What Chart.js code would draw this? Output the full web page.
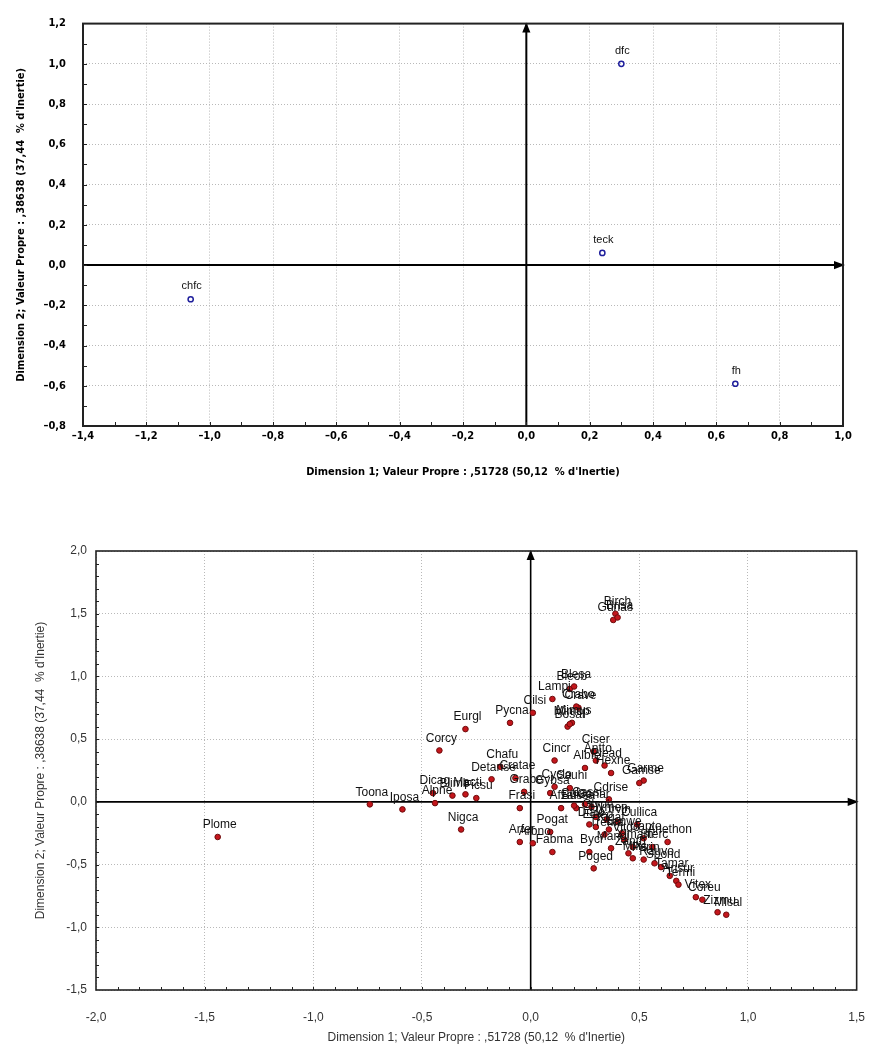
<!DOCTYPE html>
<html>
<head>
<meta charset="utf-8">
<script src="https://cdn.jsdelivr.net/npm/chart.js@4/dist/chart.umd.min.js"></script>
<style>
  html, body { margin: 0; padding: 0; background: #fff; }
  #box-top { position: absolute; left: 0; top: 0; }
  #box-bottom { position: absolute; left: 0; top: 490px; }
</style>
</head>
<body>
<div id="box-top"><canvas id="chart-top" width="885" height="490"></canvas></div>
<div id="box-bottom"><canvas id="chart-bottom" width="885" height="564"></canvas></div>
<script>
// column points (top plot)
const colLabels = ['dfc', 'teck', 'chfc', 'fh'];
const colDim1 = [0.30, 0.24, -1.06, 0.66];
const colDim2 = [1.00, 0.06, -0.17, -0.59];

// row points (bottom plot)
const rowLabels = [
  'Plome', 'Toona', 'Iposa', 'Dicag', 'Alpne', 'Blimb', 'Macti', 'Ficsu', 'Nigca', 'Corcy',
  'Eurgl', 'Pycna', 'Cilsi', 'Lampi', 'Bleob', 'Crave', 'Bosal', 'Mimus', 'Chafu', 'Detarise',
  'Cratae', 'Frasi', 'Grabe', 'Cyclo', 'Sauhi', 'Gybsa', 'Cincr', 'Ciser', 'Plead', 'Albfe',
  'Antto', 'Hexne', 'Garme', 'Gamse', 'Cdrise', 'Afzaf', 'Bussa', 'Canar', 'Cullica', 'Elaeo',
  'Kigaf', 'Lanwe', 'Anethon', 'Pogat', 'Arfer', 'Arbno', 'Fabma', 'Byci', 'Poged', 'Ansur',
  'Coreu', 'Mlsal', 'Gunas', 'Birch', 'Brisa', 'Dialo', 'Trema', 'Vitdo', 'Uapto', 'Sterc',
  'Ximam', 'Zanth', 'Mangi', 'Milic', 'Parin', 'Rauvo', 'Spond', 'Tamar', 'Termi', 'Vitex',
  'Zizmu', 'Blesa', 'Crabo', 'Mimop', 'Cassi', 'Colac', 'Glyph', 'Hymen', 'Irvin'
];
const rowDim1 = [
  -1.44, -0.74, -0.59, -0.45, -0.44, -0.36, -0.30, -0.25, -0.32, -0.42,
  -0.30, -0.095, 0.01, 0.10, 0.18, 0.22, 0.17, 0.19, -0.14, -0.18,
  -0.07, -0.05, -0.03, 0.11, 0.18, 0.09, 0.11, 0.29, 0.34, 0.25,
  0.30, 0.37, 0.52, 0.50, 0.36, 0.14, 0.21, 0.28, 0.49, 0.30,
  0.36, 0.42, 0.63, 0.09, -0.05, 0.01, 0.10, 0.27, 0.29, 0.67,
  0.79, 0.90, 0.38, 0.39, 0.40, 0.27, 0.34, 0.43, 0.52, 0.56,
  0.47, 0.45, 0.37, 0.47, 0.52, 0.57, 0.60, 0.64, 0.68, 0.76,
  0.86, 0.20, 0.21, 0.18, 0.25, 0.20, 0.30, 0.35, 0.40
];
const rowDim2 = [
  -0.28, -0.02, -0.06, 0.07, -0.01, 0.05, 0.06, 0.03, -0.22, 0.41,
  0.58, 0.63, 0.71, 0.82, 0.90, 0.75, 0.60, 0.63, 0.28, 0.18,
  0.19, -0.05, 0.08, 0.12, 0.11, 0.07, 0.33, 0.40, 0.29, 0.27,
  0.33, 0.23, 0.17, 0.15, 0.02, -0.05, -0.05, -0.04, -0.18, -0.20,
  -0.22, -0.25, -0.32, -0.24, -0.32, -0.33, -0.40, -0.40, -0.53, -0.63,
  -0.78, -0.90, 1.45, 1.50, 1.47, -0.18, -0.26, -0.30, -0.29, -0.36,
  -0.36, -0.41, -0.37, -0.45, -0.46, -0.49, -0.52, -0.59, -0.66, -0.76,
  -0.88, 0.92, 0.76, 0.62, -0.02, -0.03, -0.12, -0.14, -0.16
];

// tick labels
const topXTicks = [-1.4, -1.2, -1.0, -0.8, -0.6, -0.4, -0.2, 0, 0.2, 0.4, 0.6, 0.8, 1.0];
const topXTickLabels = ['–1,4', '–1,2', '–1,0', '–0,8', '–0,6', '–0,4', '–0,2', '0,0', '0,2', '0,4', '0,6', '0,8', '1,0'];
const topYTicks = [-0.8, -0.6, -0.4, -0.2, 0, 0.2, 0.4, 0.6, 0.8, 1.0, 1.2];
const topYTickLabels = ['–0,8', '–0,6', '–0,4', '–0,2', '0,0', '0,2', '0,4', '0,6', '0,8', '1,0', '1,2'];
const botXTicks = [-2.0, -1.5, -1.0, -0.5, 0, 0.5, 1.0, 1.5];
const botXTickLabels = ['-2,0', '-1,5', '-1,0', '-0,5', '0,0', '0,5', '1,0', '1,5'];
const botYTicks = [-1.5, -1.0, -0.5, 0, 0.5, 1.0, 1.5, 2.0];
const botYTickLabels = ['-1,5', '-1,0', '-0,5', '0,0', '0,5', '1,0', '1,5', '2,0'];

const xTitle = "Dimension 1; Valeur Propre : ,51728 (50,12  % d'Inertie)";
const yTitle = "Dimension 2; Valeur Propre : ,38638 (37,44  % d'Inertie)";

const narrowBold = { family: "'Liberation Sans Narrow', 'DejaVu Sans Condensed', sans-serif", size: 11, weight: 'bold' };
const plain = { family: "'Liberation Sans', Arial, sans-serif", size: 12 };

// frame, zero axes with arrows, inward minor ticks
const framePlugin = {
  id: 'framePlugin',
  beforeDatasetsDraw(chart, args, opts) {
    const { ctx, chartArea: a, scales: { x, y } } = chart;
    const x0 = x.getPixelForValue(0), y0 = y.getPixelForValue(0);
    ctx.save();
    ctx.strokeStyle = '#000';
    ctx.fillStyle = '#000';
    ctx.lineWidth = opts.axisWidth;
    ctx.beginPath();
    ctx.moveTo(a.left, y0); ctx.lineTo(a.right, y0);
    ctx.moveTo(x0, a.bottom); ctx.lineTo(x0, a.top);
    ctx.stroke();
    const h = opts.arrow;
    ctx.beginPath();
    ctx.moveTo(a.right + 2, y0);
    ctx.lineTo(a.right - h, y0 - h / 2.2);
    ctx.lineTo(a.right - h, y0 + h / 2.2);
    ctx.closePath(); ctx.fill();
    ctx.beginPath();
    ctx.moveTo(x0, a.top - 1);
    ctx.lineTo(x0 - h / 2.2, a.top + h);
    ctx.lineTo(x0 + h / 2.2, a.top + h);
    ctx.closePath(); ctx.fill();
    ctx.restore();
  },
  afterDatasetsDraw(chart, args, opts) {
    const { ctx, chartArea: a, scales: { x, y } } = chart;
    ctx.save();
    ctx.strokeStyle = opts.frameColor;
    ctx.lineWidth = opts.frameWidth;
    ctx.strokeRect(a.left, a.top, a.right - a.left, a.bottom - a.top);
    ctx.lineWidth = 1;
    ctx.beginPath();
    const nx = Math.round((x.max - x.min) / 0.1);
    for (let i = 1; i < nx; i++) {
      const px = Math.round(x.getPixelForValue(x.min + i * 0.1)) + 0.5;
      ctx.moveTo(px, a.bottom); ctx.lineTo(px, a.bottom - opts.tick);
    }
    const ny = Math.round((y.max - y.min) / 0.1);
    for (let i = 1; i < ny; i++) {
      const py = Math.round(y.getPixelForValue(y.min + i * 0.1)) + 0.5;
      ctx.moveTo(a.left, py); ctx.lineTo(a.left + opts.tick, py);
    }
    ctx.stroke();
    ctx.restore();
  }
};

// text above each point
const labelPlugin = {
  id: 'labelPlugin',
  afterDatasetsDraw(chart, args, opts) {
    const { ctx } = chart;
    const ds = chart.data.datasets[0];
    const meta = chart.getDatasetMeta(0);
    ctx.save();
    ctx.font = opts.font;
    ctx.fillStyle = opts.color;
    ctx.textAlign = 'center';
    ctx.textBaseline = 'middle';
    meta.data.forEach((pt, i) => {
      ctx.fillText(ds.labels[i], pt.x + opts.dx, pt.y - opts.dy);
    });
    ctx.restore();
  }
};

function axis(min, max, ticks, labels, font, color, pad, fit, title, titlePad) {
  return {
    type: 'linear',
    min, max,
    afterBuildTicks: s => { s.ticks = ticks.map(v => ({ value: v })); },
    afterFit: fit,
    ticks: {
      callback: (v, i) => labels[i],
      font, color, padding: pad,
      autoSkip: false, maxRotation: 0
    },
    grid: { color: '#b9b9b9', drawTicks: false, lineWidth: 1 },
    border: { display: false, dash: [1, 2] },
    title: { display: true, text: title, font, color, padding: titlePad }
  };
}

new Chart(document.getElementById('chart-top'), {
  type: 'scatter',
  data: {
    datasets: [{
      data: colDim1.map((v, i) => ({ x: v, y: colDim2[i] })),
      labels: colLabels,
      pointStyle: 'circle',
      pointRadius: 2.6,
      borderColor: '#1f1f9c',
      backgroundColor: 'rgba(255,255,255,0)',
      borderWidth: 1.5
    }]
  },
  options: {
    responsive: false,
    animation: false,
    devicePixelRatio: 1,
    layout: { padding: { left: 0, right: 42, top: 17, bottom: 0 } },
    plugins: {
      legend: { display: false },
      tooltip: { enabled: false },
      framePlugin: { axisWidth: 2, frameWidth: 2, frameColor: '#222', arrow: 9, tick: 4 },
      labelPlugin: { font: "11px 'Liberation Sans', Arial, sans-serif", color: '#111', dx: 1, dy: 13 }
    },
    scales: {
      x: axis(-1.4, 1.0, topXTicks, topXTickLabels, narrowBold, '#000', 4,
        s => { s.height = 64; }, xTitle, { bottom: 11 }),
      y: axis(-0.8, 1.2, topYTicks, topYTickLabels, narrowBold, '#000', 17,
        s => { s.width = 83; }, yTitle, { top: 15 })
    }
  },
  plugins: [framePlugin, labelPlugin]
});

new Chart(document.getElementById('chart-bottom'), {
  type: 'scatter',
  data: {
    datasets: [{
      data: rowDim1.map((v, i) => ({ x: v, y: rowDim2[i] })),
      labels: rowLabels,
      pointStyle: 'circle',
      pointRadius: 2.8,
      borderColor: '#6e0c0c',
      backgroundColor: '#c4161c',
      borderWidth: 1
    }]
  },
  options: {
    responsive: false,
    animation: false,
    devicePixelRatio: 1,
    layout: { padding: { left: 0, right: 15, top: 61, bottom: 0 } },
    plugins: {
      legend: { display: false },
      tooltip: { enabled: false },
      framePlugin: { axisWidth: 1.6, frameWidth: 1.6, frameColor: '#222', arrow: 9, tick: 3 },
      labelPlugin: { font: "12px 'Liberation Sans', Arial, sans-serif", color: '#111', dx: 2, dy: 12 }
    },
    scales: {
      x: axis(-2.0, 1.5, botXTicks, botXTickLabels, plain, '#333', 20,
        s => { s.height = 64; }, xTitle, { bottom: 9 }),
      y: axis(-1.5, 2.0, botYTicks, botYTickLabels, plain, '#333', 9,
        s => { s.width = 96; }, yTitle, { top: 33 })
    }
  },
  plugins: [framePlugin, labelPlugin]
});
</script>
</body>
</html>
